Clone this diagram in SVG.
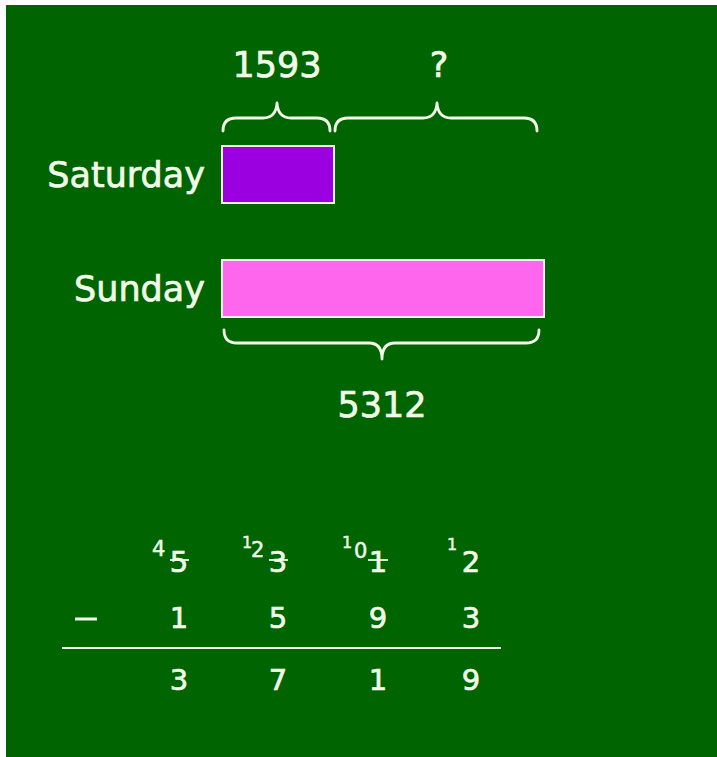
<svg xmlns="http://www.w3.org/2000/svg" width="717" height="757" viewBox="0 0 717 757">
<style>
text{font-family:"DejaVu Sans","Liberation Sans",sans-serif;fill:#f0fbe8;stroke:#f0fbe8;stroke-width:0.7}
.lbl{font-size:35px}
.dg{font-size:29px;text-anchor:middle}
.sm{font-size:16px;stroke-width:0.5}
.md{font-size:21px;stroke-width:0.5}
.br{fill:none;stroke:#f0fbe8;stroke-width:2.8;stroke-linecap:round;stroke-linejoin:round}
.bar{stroke:#f4eef4;stroke-width:2}
.ln{stroke:#f0fbe8;stroke-width:2}
.st{stroke:#f0fbe8;stroke-width:1.8}
</style>
<rect x="0" y="0" width="717" height="757" fill="#ffffff"/>
<rect x="6" y="5" width="711" height="752" fill="#006400"/>
<g id="saturday">
<text class="lbl" x="205" y="187" text-anchor="end">Saturday</text>
<rect class="bar" x="222" y="146" width="112" height="57" fill="#9a00e0"/>
</g>
<g id="sunday">
<text class="lbl" x="205" y="301" text-anchor="end">Sunday</text>
<rect class="bar" x="222" y="260" width="322" height="57" fill="#ff66ee"/>
</g>
<g id="connectors">
<path class="br" d="M223,131 Q223,118 236,118 L263,118 Q276,118 277,103 Q278,118 291,118 L317,118 Q330,118 330,131"/>
<path class="br" d="M335,131 Q335,118 348,118 L423,118 Q436,118 437,103 Q438,118 451,118 L524,118 Q537,118 537,131"/>
<path class="br" d="M224,330 Q224,343 237,343 L369,343 Q382,343 382,359 Q382,343 395,343 L526,343 Q539,343 539,330"/>
</g>
<g id="labels">
<text class="lbl" x="277" y="77" text-anchor="middle">1593</text>
<text class="lbl" x="439" y="77" text-anchor="middle">?</text>
<text class="lbl" x="382" y="417" text-anchor="middle">5312</text>
</g>
<g id="subtraction">
<text class="md" x="152" y="556">4</text>
<text class="dg" x="179" y="572">5</text>
<line class="st" x1="170" y1="560" x2="189" y2="560"/>
<text class="sm" x="242" y="548">1</text>
<text class="md" x="251" y="557">2</text>
<text class="dg" x="278" y="572">3</text>
<line class="st" x1="269" y1="560" x2="288" y2="560"/>
<text class="sm" x="342" y="548">1</text>
<text class="md" x="354" y="558">0</text>
<text class="dg" x="378" y="572">1</text>
<line class="st" x1="368" y1="560" x2="388" y2="560"/>
<text class="sm" x="447" y="550">1</text>
<text class="dg" x="471" y="572">2</text>
<line x1="75" y1="619" x2="97" y2="619" stroke="#f0fbe8" stroke-width="3"/>
<text class="dg" x="179" y="628">1</text>
<text class="dg" x="278" y="628">5</text>
<text class="dg" x="378" y="628">9</text>
<text class="dg" x="471" y="628">3</text>
<line class="ln" x1="62" y1="648" x2="501" y2="648"/>
<text class="dg" x="179" y="690">3</text>
<text class="dg" x="278" y="690">7</text>
<text class="dg" x="378" y="690">1</text>
<text class="dg" x="471" y="690">9</text>
</g>
</svg>
